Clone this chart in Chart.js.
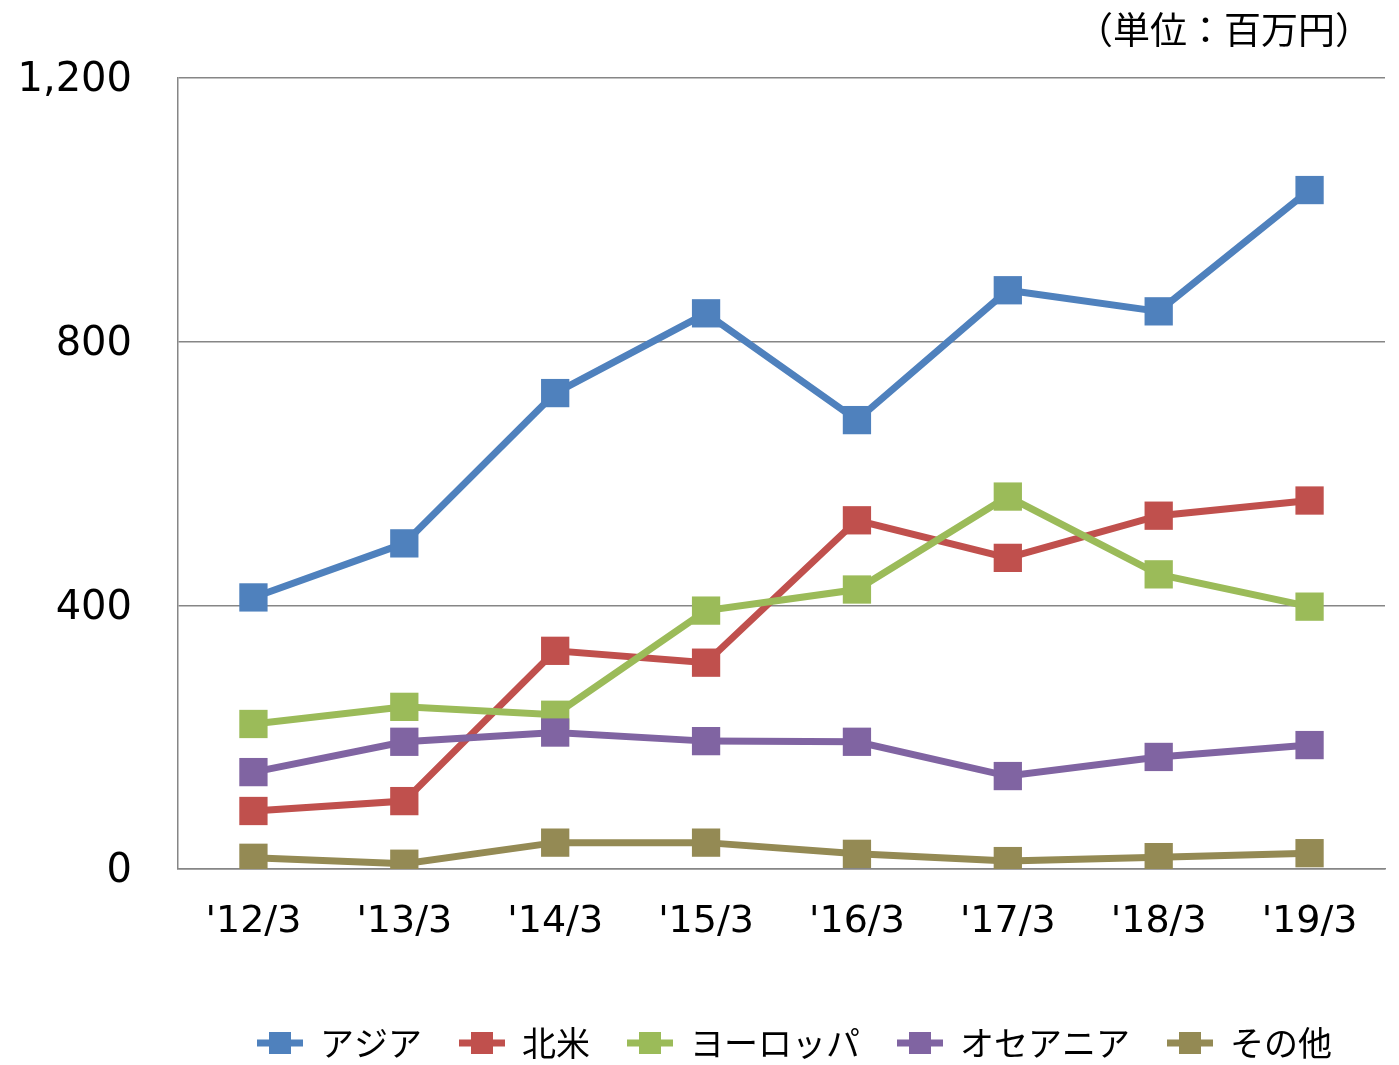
<!DOCTYPE html>
<html>
<head>
<meta charset="utf-8">
<script src="https://cdn.jsdelivr.net/npm/chart.js@4.4.1/dist/chart.umd.min.js"></script>
<style>
html,body{margin:0;padding:0;background:#fff;}
#wrap{width:1399px;height:1065px;position:relative;}
</style>
</head>
<body>
<div id="wrap"><canvas id="c" width="1399" height="1065"></canvas></div>
<script>
const categories = ["'12/3","'13/3","'14/3","'15/3","'16/3","'17/3","'18/3","'19/3"];
const seriesNames = ["アジア","北米","ヨーロッパ","オセアニア","その他"];
const asia = [412, 494, 722, 843, 681, 878, 846, 1030];
const northAmerica = [88, 103, 331, 313, 529, 472, 536, 559];
const europe = [220, 246, 234, 392, 424, 565, 447, 398];
const oceania = [147, 193, 207, 194, 193, 141, 170, 188];
const other = [17, 8, 40, 40, 23, 12, 18, 24];
const yTicks = [0, 400, 800, 1200];
const unitLabel = "（単位：百万円）";

const colors = ["#4F81BD","#C0504D","#9BBB59","#8064A2","#948A54"];
const values = [asia, northAmerica, europe, oceania, other];

function legendIcon(color){
  const cv = document.createElement('canvas');
  cv.width = 46; cv.height = 24;
  const g = cv.getContext('2d');
  g.strokeStyle = color; g.lineWidth = 7;
  g.beginPath(); g.moveTo(0,12); g.lineTo(46,12); g.stroke();
  g.fillStyle = color; g.fillRect(12,1,22,22);
  return cv;
}

const datasets = seriesNames.map((n,i)=>({
  label: n,
  data: values[i],
  borderColor: colors[i],
  backgroundColor: colors[i],
  borderWidth: 7,
  pointStyle: 'rect',
  pointRadius: 20,
  pointHoverRadius: 20,
  pointBorderWidth: 0,
  pointBackgroundColor: colors[i],
  tension: 0,
  order: seriesNames.length - i,
  legendIcon: legendIcon(colors[i])
}));

const unitPlugin = {
  id: 'unit',
  afterLayout(chart){
    const lg = chart.legend;
    if (lg) { lg.left += 102; lg.right += 102; lg.top += 5; lg.bottom += 5; }
  },
  afterDraw(chart){
    const ctx = chart.ctx;
    ctx.save();
    ctx.font = '37px "Noto Sans CJK JP"';
    ctx.fillStyle = '#000';
    ctx.textAlign = 'right';
    ctx.textBaseline = 'middle';
    ctx.fillText(unitLabel, 1372, 30);
    ctx.restore();
  }
};

new Chart(document.getElementById('c'), {
  type: 'line',
  data: { labels: categories, datasets },
  options: {
    responsive: false,
    animation: false,
    events: [],
    layout: { autoPadding: false, padding: { top: 78, right: 14, left: 0, bottom: 0 } },
    plugins: {
      tooltip: { enabled: false },
      legend: {
        position: 'bottom',
        labels: {
          usePointStyle: true,
          pointStyleWidth: 46,
          padding: 37,
          color: '#000',
          font: { family: '"Noto Sans CJK JP"', size: 34 },
          sort: (a,b)=>a.datasetIndex-b.datasetIndex,
          generateLabels(chart){
            return chart.data.datasets.map((d,i)=>({
              text: d.label,
              fillStyle: d.borderColor,
              strokeStyle: d.borderColor,
              lineWidth: 0,
              pointStyle: d.legendIcon,
              datasetIndex: i,
              hidden: false,
              fontColor: '#000'
            }));
          }
        }
      }
    },
    scales: {
      x: {
        offset: true,
        grid: { display: false, drawTicks: false },
        border: { display: true, color: '#868686', width: 1.5 },
        ticks: { color: '#000', font: { family: '"DejaVu Sans"', size: 38 }, padding: 30, maxRotation: 0 },
        afterFit(s){ s.height = 115; s.paddingLeft = 0; s.paddingRight = 0; }
      },
      y: {
        min: 0, max: 1200,
        afterBuildTicks(s){ s.ticks = yTicks.map(v=>({value:v})); },
        grid: { color: '#868686', lineWidth: 1.5, drawTicks: false },
        border: { display: true, color: '#868686', width: 1.5 },
        ticks: {
          color: '#000', font: { family: '"DejaVu Sans"', size: 40 }, padding: 46, labelOffset: 3,
          callback: v => v.toLocaleString('en-US')
        },
        afterFit(s){ s.width = 178; s.paddingTop = 0; s.paddingBottom = 0; }
      }
    }
  },
  plugins: [unitPlugin]
});
</script>
</body>
</html>
